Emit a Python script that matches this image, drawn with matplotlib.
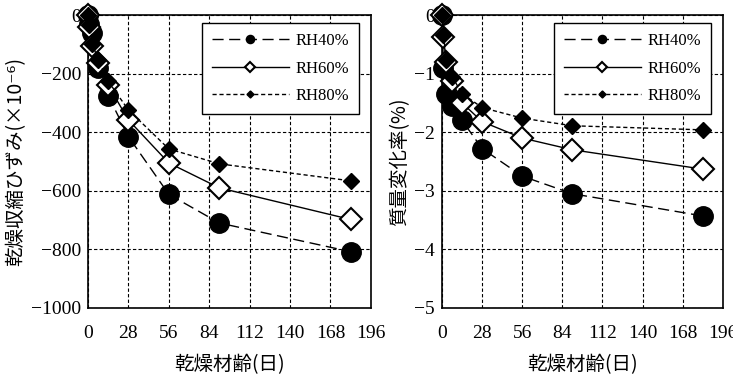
import numpy as np
import matplotlib
matplotlib.use("Agg")
import matplotlib.pyplot as plt

days = [0, 1, 3, 7, 14, 28, 56, 91, 182]
labels = ["RH40%", "RH60%", "RH80%"]

# drying shrinkage strain (x10^-6)
strain_rh40 = [0, -30, -60, -180, -275, -415, -612, -710, -808]
strain_rh60 = [0, -40, -105, -165, -240, -358, -505, -590, -698]
strain_rh80 = [0, -35, -98, -152, -226, -324, -457, -508, -566]

# mass change ratio (%)
mass_rh40 = [0, -0.9, -1.34, -1.55, -1.80, -2.28, -2.75, -3.05, -3.43]
mass_rh60 = [0, -0.38, -0.80, -1.12, -1.50, -1.82, -2.10, -2.30, -2.63]
mass_rh80 = [0, -0.34, -0.77, -1.05, -1.34, -1.58, -1.76, -1.89, -1.96]

xticks = [0, 28, 56, 84, 112, 140, 168, 196]

serif = ["Liberation Serif", "Noto Sans CJK JP", "DejaVu Sans"]
jp = ["Noto Sans CJK JP", "DejaVu Sans"]
plt.rcParams["font.family"] = serif
plt.rcParams["axes.unicode_minus"] = True

fig = plt.figure(figsize=(7.33, 3.76), dpi=100)
ax1 = fig.add_axes([0.120, 0.181, 0.386, 0.779])
ax2 = fig.add_axes([0.603, 0.181, 0.383, 0.779])

styles = [
    dict(color="black", ls=(0, (8, 4)), marker="o", ms=14, mfc="black", mec="black"),
    dict(color="black", ls="-", marker="D", ms=11.5, mfc="white", mec="black", mew=1.5),
    dict(color="black", ls=(0, (3, 2)), marker="D", ms=8.5, mfc="black", mec="black"),
]


def draw(ax, series, ylim, yticks, ylabel):
    for y, lab, st in zip(series, labels, styles):
        ax.plot(days, y, lw=1.0, label=lab, clip_on=False, zorder=3, **st)
    ax.set_xlim(0, 196)
    ax.set_ylim(*ylim)
    ax.set_xticks(xticks)
    ax.set_yticks(yticks)
    ax.grid(True, color="black", ls=(0, (3, 2)), lw=0.8)
    ax.tick_params(length=0, labelsize=14, pad=5)
    ax.tick_params(axis="x", pad=12)
    for s in ax.spines.values():
        s.set_linewidth(1.2)
    ax.set_xlabel("乾燥材齢(日)", family=jp, fontsize=14, labelpad=9)
    ax.set_ylabel(ylabel, family=jp, fontsize=14, labelpad=3)
    leg = ax.legend(loc="upper right", bbox_to_anchor=(0.958, 0.973), borderaxespad=0,
                    fancybox=False, edgecolor="black", framealpha=1, fontsize=12,
                    markerscale=0.42, handlelength=4.6, handletextpad=0.4,
                    labelspacing=0.7, borderpad=0.6)
    leg.get_frame().set_linewidth(1.0)


draw(ax1, [strain_rh40, strain_rh60, strain_rh80], (-1000, 0),
     [0, -200, -400, -600, -800, -1000], "乾燥収縮ひずみ(×10⁻⁶)")
draw(ax2, [mass_rh40, mass_rh60, mass_rh80], (-5, 0),
     [0, -1, -2, -3, -4, -5], "質量変化率(%)")

fig.savefig("out.png", dpi=100)
